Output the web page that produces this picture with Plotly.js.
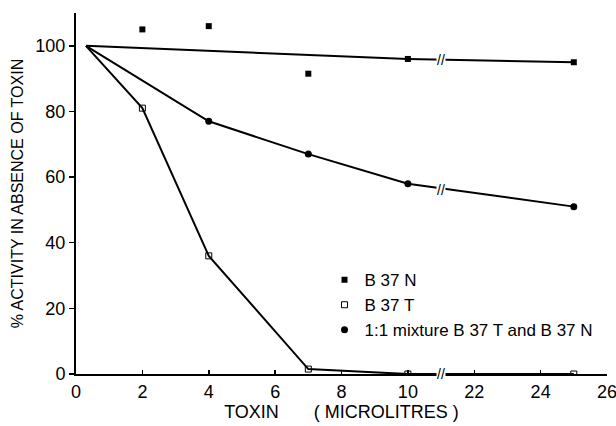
<!DOCTYPE html>
<html>
<head>
<meta charset="utf-8">
<script src="https://cdn.plot.ly/plotly-3.0.1.min.js"></script>
<style>html,body{margin:0;padding:0;background:#fff;}#chart{width:616px;height:426px;}</style>
</head>
<body>
<div id="chart"></div>
<script>
// Toxin volume (microlitres), actual values; axis is broken between 10 and 22
const nX = [2, 4, 7, 10, 25];
const nY = [105, 106, 91.5, 96, 95];
const nLineX = [0.3, 10, 25];
const nLineY = [100, 96, 95];

const tX = [0.3, 2, 4, 7, 10, 25];
const tY = [100, 81, 36, 1.5, 0, 0];

const mX = [0.3, 4, 7, 10, 25];
const mY = [100, 77, 67, 58, 51];

const xTickValues = [0, 2, 4, 6, 8, 10, 22, 24, 26];
const yTickValues = [0, 20, 40, 60, 80, 100];

// broken axis: values above the break are shifted left by 10 units
const brk = v => (v <= 10 ? v : v - 10);
const mapX = arr => arr.map(brk);

const font = 'Liberation Sans, Arial, sans-serif';
const black = '#000';

const traces = [
  {x: mapX(nLineX), y: nLineY, mode: 'lines', line: {color: black, width: 2}, showlegend: false, hoverinfo: 'skip'},
  {x: mapX(mX), y: mY, mode: 'lines', line: {color: black, width: 2}, showlegend: false, hoverinfo: 'skip'},
  {x: mapX(tX), y: tY, mode: 'lines', line: {color: black, width: 2}, showlegend: false, hoverinfo: 'skip'},
  {x: mapX(nX), y: nY, mode: 'markers', name: 'B 37 N',
   marker: {symbol: 'square', size: 6, color: black}},
  {x: mapX(tX.slice(1)), y: tY.slice(1), mode: 'markers', name: 'B 37 T',
   marker: {symbol: 'square-open', size: 6, color: black, line: {width: 1, color: black}}},
  {x: mapX(mX.slice(1)), y: mY.slice(1), mode: 'markers', name: '1:1 mixture B 37 T and B 37 N',
   marker: {symbol: 'circle', size: 7, color: black}}
];

const breakMark = (y) => ({
  x: 11, y: y, xref: 'x', yref: 'y', text: '//', showarrow: false,
  font: {family: font, size: 14, color: black}, bgcolor: '#fff', borderpad: 0
});

const layout = {
  width: 616, height: 426,
  margin: {l: 76, r: 9, t: 13, b: 52},
  paper_bgcolor: '#fff', plot_bgcolor: '#fff',
  font: {family: font, color: black},
  xaxis: {
    range: [0, 16],
    tickvals: mapX(xTickValues),
    ticktext: xTickValues.map(String),
    ticklabeloverflow: 'allow',
    ticks: 'inside', ticklen: 4, tickwidth: 1.5, tickcolor: black,
    showline: true, linecolor: black, linewidth: 2,
    showgrid: false, zeroline: false,
    tickfont: {family: font, size: 18, color: black},
    title: {text: 'TOXIN\u00a0\u00a0\u00a0\u00a0\u00a0\u00a0\u00a0( MICROLITRES )',
            font: {family: font, size: 18, color: black}, standoff: 2}
  },
  yaxis: {
    range: [0, 110],
    tickvals: yTickValues,
    ticks: 'outside', ticklen: 5, tickwidth: 1.5, tickcolor: black,
    showline: true, linecolor: black, linewidth: 2,
    showgrid: false, zeroline: false,
    tickfont: {family: font, size: 18, color: black},
    title: {text: '% ACTIVITY IN ABSENCE OF TOXIN',
            font: {family: font, size: 16, color: black}, standoff: 8}
  },
  legend: {
    x: 0.468, y: 0.31, xanchor: 'left', yanchor: 'top',
    bgcolor: 'rgba(0,0,0,0)', borderwidth: 0,
    font: {family: font, size: 17, color: black},
    itemwidth: 30
  },
  annotations: [breakMark(95.7), breakMark(56.2), breakMark(0)]
};

Plotly.newPlot('chart', traces, layout, {staticPlot: true, displayModeBar: false});
</script>
</body>
</html>
